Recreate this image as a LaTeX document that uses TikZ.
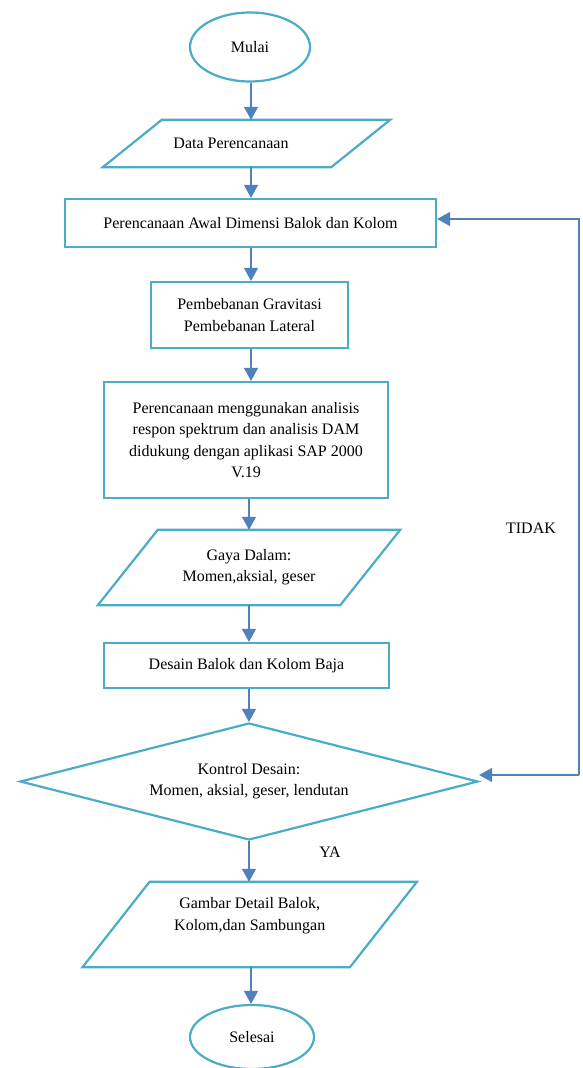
\documentclass[tikz,border=0pt]{standalone}
\usepackage{fontspec}
\setmainfont{Liberation Serif}
\usetikzlibrary{shapes.geometric,arrows.meta,calc}
\definecolor{shpc}{HTML}{4BACC6}
\definecolor{arrc}{HTML}{4F81BD}
\begin{document}
\begin{tikzpicture}[x=1pt,y=-1pt,
  shp/.style={draw=shpc, line width=2.2pt},
  txt/.style={font=\fontsize{16}{21.3}\selectfont, align=center, inner sep=0pt},
  boxn/.style={shp, txt, rectangle},
  arr/.style={draw=arrc, line width=1.3pt, -{Triangle[width=14pt,length=13pt]}},
  lbl/.style={font=\fontsize{16}{19}\selectfont, inner sep=0pt}]
\useasboundingbox (0,0) rectangle (583,1068);
\fill[white] (0,0) rectangle (583,1068);

% nodes
\node[shp, txt, ellipse, minimum width=120pt, minimum height=69pt] (start) at (250,47) {Mulai};

\node[txt, minimum width=228pt, minimum height=47pt] (dp) at (246.5,143.5) {\hspace*{-31pt}Data Perencanaan};
\draw[shp] ([xshift=29.5pt]dp.north west) -- ([xshift=29.5pt]dp.north east) -- ([xshift=-29.5pt]dp.south east) -- ([xshift=-29.5pt]dp.south west) -- cycle;

\node[boxn, minimum width=371pt, minimum height=48pt] (b1) at (250.5,223) {Perencanaan Awal Dimensi Balok dan Kolom};

\node[boxn, minimum width=197pt, minimum height=66pt] (b2) at (249.5,315) {Pembebanan Gravitasi\\Pembebanan Lateral};

\node[boxn, minimum width=284pt, minimum height=116pt] (b3) at (246,440) {Perencanaan menggunakan analisis\\respon spektrum dan analisis DAM\\didukung dengan aplikasi SAP 2000\\V.19};

\node[txt, minimum width=242pt, minimum height=75pt] (gaya) at (249,567.5) {Gaya Dalam:\\Momen,aksial, geser};
\draw[shp] ([xshift=30pt]gaya.north west) -- ([xshift=30pt]gaya.north east) -- ([xshift=-30pt]gaya.south east) -- ([xshift=-30pt]gaya.south west) -- cycle;

\node[boxn, minimum width=285pt, minimum height=45pt] (desain) at (246.5,665.5) {Desain Balok dan Kolom Baja};

\node[shp, txt, diamond, aspect=4, minimum width=458pt, minimum height=117pt] (dia) at (249,781.5) {Kontrol Desain:\\Momen, aksial, geser, lendutan};

\node[txt, minimum width=267pt, minimum height=85pt] (gambar) at (249.75,924.5) {Gambar Detail Balok,\\Kolom,dan Sambungan\\\mbox{}};
\draw[shp] ([xshift=33.5pt]gambar.north west) -- ([xshift=33.5pt]gambar.north east) -- ([xshift=-33.5pt]gambar.south east) -- ([xshift=-33.5pt]gambar.south west) -- cycle;

\node[shp, txt, ellipse, minimum width=124pt, minimum height=64pt] (end) at (252,1037) {Selesai};

\node[lbl] (tidak) at (531,528) {TIDAK};
\node[lbl] (ya) at (330,852) {YA};

% connectors
\coordinate (xa) at (251,0);
\coordinate (xb) at (249,0);
\draw[arr] (start.south -| xa) -- (dp.north -| xa);
\draw[arr] (dp.south -| xa) -- (b1.north -| xa);
\draw[arr] (b1.south -| xa) -- (b2.north -| xa);
\draw[arr] (b2.south -| xa) -- (b3.north -| xa);
\draw[arr] (b3.south -| xb) -- (gaya.north -| xb);
\draw[arr] (gaya.south -| xb) -- (desain.north -| xb);
\draw[arr] (desain.south -| xb) -- (dia.north);
\draw[arr] (dia.south) -- (gambar.north -| xb);
\draw[arr] (gambar.south -| xa) -- (end.north -| xa);

\coordinate (fb) at (579,775);
\draw[arr] (fb) -- ([yshift=6.5pt]dia.east);
\draw[arr] (fb) |- ([yshift=4pt]b1.east);
\end{tikzpicture}
\end{document}
